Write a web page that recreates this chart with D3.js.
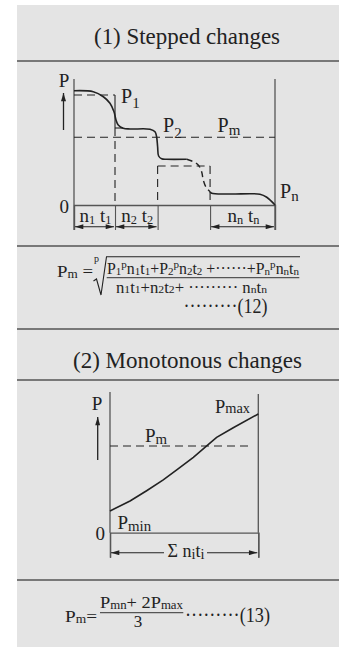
<!DOCTYPE html>
<html>
<head>
<meta charset="utf-8">
<script src="https://cdn.jsdelivr.net/npm/d3@7/dist/d3.min.js"></script>
<style>
  html, body { margin: 0; padding: 0; background: #ffffff; }
  svg { display: block; }
</style>
</head>
<body>
<svg id="chart" width="339" height="647"></svg>
<script>
// ---- data ----
// (1) stepped load: cumulative time boundaries n_i t_i (percent of cycle)
const stepBounds = [0, 20.4, 41.6, 67.7, 100];
// equivalent step levels P1, P2, P3, Pn (percent of axis height)
const stepLevels = [88, 61.6, 31.2, 8.8];
const stepMean = 54.2;
// actual load curve: solid part, dashed (omitted steps) part, final solid part
const stepCurveA = [[0,91.4],[9.6,90.6],[14.6,86.6],[17.9,81.4],[19.9,74.6],[20.9,68],[22.0,64],[24.5,61.4],[27.9,60.8],[37.8,60.6],[40.3,58.6],[41.1,54.6],[41.6,46.6],[42.1,39.2],[43.6,37],[46.1,36.6],[56.1,36.6]];
const stepCurveB = [[56.1,36.6],[58.6,35.2],[61.8,32],[63.5,26.6],[64.3,20],[65.7,14.2],[67.7,10.6]];
const stepCurveC = [[67.7,10.6],[68.5,9.4],[77.6,8.8],[92.5,8.6],[95.9,6.2],[100,0]];
const stepTickLabels = [
  {from: 0,    to: 20.4, sym: "1"},
  {from: 20.4, to: 41.6, sym: "2"},
  {from: 67.7, to: 100,  sym: "n"}
];

// (2) monotonous load
const monoCurve = [[0,17.4],[13.5,25.4],[24.7,33.6],[35.9,42.2],[45,50.2],[56.2,60.3],[65.2,69.4],[71.9,76.3],[83.1,84],[100,95]];
const monoMean = 69.4;

const titles = ["(1) Stepped changes", "(2) Monotonous changes"];

// ---- layout ----
const SERIF = '"Liberation Serif", monospace';
// make sure the serif face is resolved before drawing
const probe = document.createElement("canvas").getContext("2d");
probe.font = '20px "Liberation Serif", monospace';
probe.measureText("(1) Pm");

const svg = d3.select("#chart");
const ink = "#222";
const axisInk = "#555";

svg.append("rect").attr("x", 17).attr("y", 5).attr("width", 322).attr("height", 642).attr("fill", "#e4e4e4");

[61, 246, 329, 380, 580].forEach(y => {
  svg.append("line").attr("x1", 17).attr("x2", 339).attr("y1", y).attr("y2", y)
    .attr("stroke", axisInk).attr("stroke-width", 1.4);
});

function txt(parent, x, y, s, size, anchor) {
  return parent.append("text").attr("x", x).attr("y", y).attr("font-size", size)
    .style("font-family", SERIF).attr("fill", ink)
    .attr("text-anchor", anchor || "start").text(s);
}

txt(svg, 187, 43.5, titles[0], 22.5, "middle").attr("textLength", 186).attr("lengthAdjust", "spacingAndGlyphs");
txt(svg, 187.5, 368, titles[1], 22.5, "middle").attr("textLength", 229).attr("lengthAdjust", "spacingAndGlyphs");

// arrow heads
const defs = svg.append("defs");
defs.append("marker").attr("id", "head").attr("viewBox", "0 0 10 6")
  .attr("refX", 10).attr("refY", 3).attr("markerWidth", 10).attr("markerHeight", 5)
  .attr("markerUnits", "userSpaceOnUse").attr("orient", "auto-start-reverse")
  .append("path").attr("d", "M0,0 L10,3 L0,6 Z").attr("fill", ink);

// rich text helper: parts are [string, "n" | "sub" | "sup"]
function rich(parent, x, y, parts, size, opts = {}) {
  const t = parent.append("text").attr("x", x).attr("y", y).attr("font-size", size)
    .style("font-family", SERIF).attr("fill", ink)
    .attr("text-anchor", opts.anchor || "start");
  let shift = 0;
  parts.forEach(([s, kind]) => {
    const target = kind === "sub" ? size * (opts.subDrop || 0.28)
                 : kind === "sup" ? -size * 0.38 : 0;
    t.append("tspan").attr("dy", target - shift).style("font-family", SERIF)
      .attr("font-size", kind === "n" ? size : size * (opts.subScale || 0.65)).text(s);
    shift = target;
  });
  if (opts.width) t.attr("textLength", opts.width).attr("lengthAdjust", "spacingAndGlyphs");
  return t;
}

// ---- chart (1) ----
const g1 = svg.append("g");
const x1 = d3.scaleLinear().domain([0, 100]).range([74, 275]);
const y1 = d3.scaleLinear().domain([0, 100]).range([205, 80]);

// bottom axis with separators hanging below
g1.append("g").attr("transform", `translate(0,${y1(0)})`)
  .call(d3.axisBottom(x1).tickValues(stepBounds).tickSize(25).tickFormat(""))
  .call(a => a.select(".domain").attr("stroke", axisInk).attr("stroke-width", 1.3))
  .call(a => a.selectAll(".tick line").attr("stroke", axisInk).attr("stroke-width", 1.1));
// left and right verticals
[0, 100].forEach(v => {
  g1.append("line").attr("x1", x1(v)).attr("x2", x1(v)).attr("y1", y1(100) - 1).attr("y2", y1(0) + 25)
    .attr("stroke", axisInk).attr("stroke-width", 1.3);
});

const dash = "8,5";
function seg(g, xa, ya, xb, yb, xs, ys, dashed, w) {
  g.append("line").attr("x1", xs(xa)).attr("y1", ys(ya)).attr("x2", xs(xb)).attr("y2", ys(yb))
    .attr("stroke", ink).attr("stroke-width", w || 1.1)
    .attr("stroke-dasharray", dashed ? dash : null);
}
// equivalent steps
seg(g1, 0, stepLevels[0], stepBounds[1], stepLevels[0], x1, y1, true);
seg(g1, stepBounds[1], stepLevels[0], stepBounds[1], stepLevels[1], x1, y1, false);
seg(g1, stepBounds[1], stepLevels[1], stepBounds[1] + 4, stepLevels[1], x1, y1, false);
seg(g1, stepBounds[1], stepLevels[1], stepBounds[1], 0, x1, y1, true);
seg(g1, stepBounds[2], stepLevels[2], stepBounds[3], stepLevels[2], x1, y1, true);
seg(g1, stepBounds[2], stepLevels[2], stepBounds[2], 0, x1, y1, true);
seg(g1, stepBounds[3], stepLevels[2], stepBounds[3], 0, x1, y1, true);
seg(g1, 0, stepMean, 100, stepMean, x1, y1, true);

const line1 = d3.line().x(d => x1(d[0])).y(d => y1(d[1])).curve(d3.curveCatmullRom.alpha(0.5));
g1.append("path").attr("d", line1(stepCurveA)).attr("fill", "none").attr("stroke", ink).attr("stroke-width", 1.6);
g1.append("path").attr("d", line1(stepCurveB)).attr("fill", "none").attr("stroke", ink).attr("stroke-width", 1.4).attr("stroke-dasharray", "6,4");
g1.append("path").attr("d", line1(stepCurveC)).attr("fill", "none").attr("stroke", ink).attr("stroke-width", 1.6);

// P arrow
g1.append("line").attr("x1", 63.5).attr("x2", 63.5).attr("y1", 130).attr("y2", 93)
  .attr("stroke", ink).attr("stroke-width", 1.3).attr("marker-end", "url(#head)");
txt(g1, 64, 87, "P", 19, "middle");
txt(g1, 69, 212.5, "0", 19, "end");

rich(g1, 121, 102.7, [["P", "n"], ["1", "sub"]], 20, {subScale: 0.75});
rich(g1, 163, 132.3, [["P", "n"], ["2", "sub"]], 20, {subScale: 0.75});
rich(g1, 217.5, 132.3, [["P", "n"], ["m", "sub"]], 20, {subScale: 0.75, subDrop: 0.12});
rich(g1, 280, 198.3, [["P", "n"], ["n", "sub"]], 20, {subScale: 0.75, subDrop: 0.12});

// interval arrows and labels
stepTickLabels.forEach(d => {
  g1.append("line").attr("x1", x1(d.from) + 1).attr("x2", x1(d.to) - 1)
    .attr("y1", 226.7).attr("y2", 226.7).attr("stroke", ink).attr("stroke-width", 1.1)
    .attr("marker-start", "url(#head)").attr("marker-end", "url(#head)");
  rich(g1, (x1(d.from) + x1(d.to)) / 2 + 1, 222, [["n", "n"], [d.sym, "sub"], [" t", "n"], [d.sym, "sub"]], 19,
    {anchor: "middle", subScale: 0.65, subDrop: 0.1});
});

// ---- formula (12) ----
const f1 = svg.append("g");
rich(f1, 57, 276.7, [["P", "n"], ["m", "sub"], [" =", "n"]], 17, {subScale: 0.7, subDrop: 0.08, width: 36});
txt(f1, 96.5, 262, "p", 10, "middle");
f1.append("path").attr("d", "M93.5,281 L96.5,279 L101,295 L106.5,256.7 L300,256.7")
  .attr("fill", "none").attr("stroke", ink).attr("stroke-width", 1.1);
rich(f1, 107, 274, [
  ["P", "n"], ["1", "sub"], ["p", "sup"], ["n", "n"], ["1", "sub"], ["t", "n"], ["1", "sub"], ["+", "n"],
  ["P", "n"], ["2", "sub"], ["p", "sup"], ["n", "n"], ["2", "sub"], ["t", "n"], ["2", "sub"], [" +······+", "n"],
  ["P", "n"], ["n", "sub"], ["p", "sup"], ["n", "n"], ["n", "sub"], ["t", "n"], ["n", "sub"]
], 16, {subScale: 0.7, subDrop: 0.06, width: 192});
f1.append("line").attr("x1", 106.7).attr("x2", 299.3).attr("y1", 277.7).attr("y2", 277.7)
  .attr("stroke", axisInk).attr("stroke-width", 1.3);
rich(f1, 116, 292.5, [
  ["n", "n"], ["1", "sub"], ["t", "n"], ["1", "sub"], ["+", "n"], ["n", "n"], ["2", "sub"], ["t", "n"], ["2", "sub"],
  ["+ ········· ", "n"], ["n", "n"], ["n", "sub"], ["t", "n"], ["n", "sub"]
], 16, {subScale: 0.7, subDrop: 0.05, width: 151});
const l12 = txt(f1, 183.5, 313.3, "·········(12)", 20);
l12.attr("textLength", 84).attr("lengthAdjust", "spacingAndGlyphs");

// ---- chart (2) ----
const g2 = svg.append("g");
const x2 = d3.scaleLinear().domain([0, 100]).range([110, 258.3]);
const y2 = d3.scaleLinear().domain([0, 100]).range([532.7, 407.7]);

g2.append("g").attr("transform", `translate(0,${y2(0)})`)
  .call(d3.axisBottom(x2).tickValues([0, 100]).tickSize(25).tickFormat(""))
  .call(a => a.select(".domain").attr("stroke", axisInk).attr("stroke-width", 1.3))
  .call(a => a.selectAll(".tick line").attr("stroke", axisInk).attr("stroke-width", 1.3));
g2.append("line").attr("x1", x2(0)).attr("x2", x2(0)).attr("y1", 392).attr("y2", y2(0))
  .attr("stroke", axisInk).attr("stroke-width", 1.3);
g2.append("line").attr("x1", x2(100)).attr("x2", x2(100)).attr("y1", 394).attr("y2", y2(0))
  .attr("stroke", axisInk).attr("stroke-width", 1.3);

seg(g2, 0, monoMean, 94, monoMean, x2, y2, true);
const line2 = d3.line().x(d => x2(d[0])).y(d => y2(d[1])).curve(d3.curveLinear);
g2.append("path").attr("d", line2(monoCurve)).attr("fill", "none").attr("stroke", ink).attr("stroke-width", 1.6);

g2.append("line").attr("x1", 97.7).attr("x2", 97.7).attr("y1", 460).attr("y2", 417)
  .attr("stroke", ink).attr("stroke-width", 1.3).attr("marker-end", "url(#head)");
txt(g2, 97, 409.5, "P", 19, "middle");
txt(g2, 105, 540, "0", 19, "end");

rich(g2, 215, 412.7, [["P", "n"], ["max", "sub"]], 19, {subScale: 0.78, subDrop: 0.02, width: 35});
rich(g2, 145, 441.7, [["P", "n"], ["m", "sub"]], 19, {subScale: 0.78, subDrop: 0.1});
rich(g2, 117.5, 529.3, [["P", "n"], ["min", "sub"]], 19, {subScale: 0.78, subDrop: 0.1});

// total time arrow
g2.append("line").attr("x1", x2(0) + 1).attr("x2", 164).attr("y1", 552.7).attr("y2", 552.7)
  .attr("stroke", ink).attr("stroke-width", 1.1).attr("marker-start", "url(#head)");
g2.append("line").attr("x1", 207).attr("x2", x2(100) - 1).attr("y1", 552.7).attr("y2", 552.7)
  .attr("stroke", ink).attr("stroke-width", 1.1).attr("marker-end", "url(#head)");
rich(g2, 186, 557, [["Σ n", "n"], ["i", "sub"], ["t", "n"], ["i", "sub"]], 18,
  {anchor: "middle", subScale: 0.8, subDrop: 0.12});

// ---- formula (13) ----
const f2 = svg.append("g");
rich(f2, 65, 621.7, [["P", "n"], ["m", "sub"], ["=", "n"]], 17, {subScale: 0.7, subDrop: 0.08, width: 32});
rich(f2, 100, 608.3, [["P", "n"], ["mn", "sub"], ["+ 2P", "n"], ["max", "sub"]], 17,
  {subScale: 0.7, subDrop: 0.05, width: 83});
f2.append("line").attr("x1", 100).attr("x2", 183.3).attr("y1", 612.7).attr("y2", 612.7)
  .attr("stroke", axisInk).attr("stroke-width", 1.3);
txt(f2, 138, 627, "3", 17, "middle");
const l13 = txt(f2, 185, 622, "·········(13)", 20);
l13.attr("textLength", 85).attr("lengthAdjust", "spacingAndGlyphs");
</script>
</body>
</html>
